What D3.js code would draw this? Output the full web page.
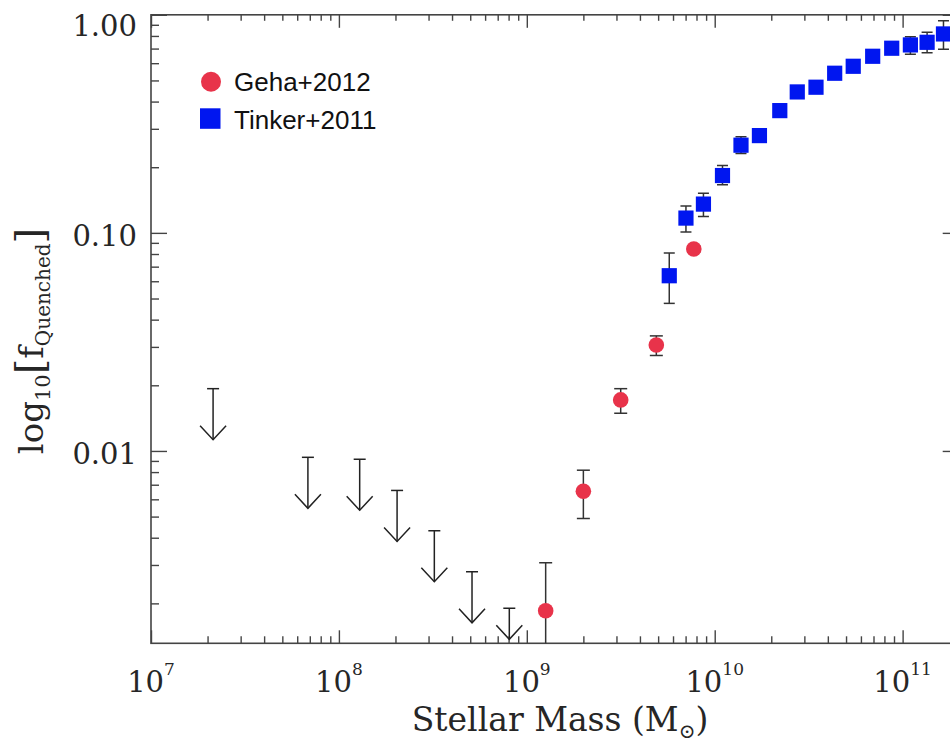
<!DOCTYPE html>
<html>
<head>
<meta charset="utf-8">
<script src="https://cdn.jsdelivr.net/npm/d3@7"></script>
<style>
  html, body { margin: 0; padding: 0; background: #fff; }
  svg { display: block; }
</style>
</head>
<body>
<svg id="chart" width="950" height="742"></svg>
<script>
// Quenched fraction of isolated galaxies versus stellar mass

// Upper limits (no quenched galaxies found): stellar mass and limit on f_quenched
const limitMass = [2.14e7, 6.84e7, 1.29e8, 2.04e8, 3.22e8, 5.11e8, 8.07e8];
const limitFrac = [0.0193, 0.00935, 0.00916, 0.00659, 0.00431, 0.00279, 0.00190];

// Geha+2012 measurements with error range
const gehaMass = [1.26e9, 2.0e9, 3.16e9, 4.89e9, 7.74e9];
const gehaFrac = [0.00185, 0.00653, 0.01714, 0.0306, 0.0843];
const gehaLo   = [0.0008, 0.00490, 0.01489, 0.0274, 0.0815];
const gehaHi   = [0.00307, 0.00816, 0.0193, 0.0337, 0.0872];

// Tinker+2011 measurements with error range
const tinkerMass = [5.73e9, 7.03e9, 8.71e9, 1.10e10, 1.38e10, 1.73e10, 2.22e10, 2.75e10,
                    3.46e10, 4.35e10, 5.46e10, 6.93e10, 8.75e10, 1.10e11, 1.35e11, 1.65e11];
const tinkerFrac = [0.0636, 0.1169, 0.1355, 0.1832, 0.2524, 0.2793, 0.3636, 0.4429,
                    0.4655, 0.5395, 0.5807, 0.6454, 0.7026, 0.7275, 0.748, 0.817];
const tinkerLo   = [0.0475, 0.1009, 0.1189, 0.1661, 0.2310, 0.268, 0.352, 0.43,
                    0.452, 0.525, 0.566, 0.63, 0.68, 0.660, 0.6706, 0.695];
const tinkerHi   = [0.0808, 0.1327, 0.1521, 0.2035, 0.2756, 0.291, 0.375, 0.455,
                    0.479, 0.554, 0.596, 0.66, 0.725, 0.794, 0.8316, 0.9396];

// Axis ticks
const xTickExps   = [7, 8, 9, 10, 11];
const yTickVals   = [1, 0.1, 0.01];
const yTickLabels = ["1.00", "0.10", "0.01"];

// Legend entries
const seriesNames  = ["Geha+2012", "Tinker+2011"];
const seriesColors = ["#e8334a", "#0016f0"];

const svg = d3.select("#chart");
const L = 151, R = 958.7, T = 14.8, B = 643.3;
const xMax = Math.pow(10, 11.2985), yMin = 0.001312;

const x = d3.scaleLog().domain([1e7, xMax]).range([L, R]);
const y = d3.scaleLog().domain([yMin, 1]).range([B, T]);

const axisColor = "#444";
const textColor = "#262626";
const serif = "'DejaVu Serif', serif";

// minor tick positions
const xMinor = [], yMinor = [];
for (let e = 7; e <= 11; e++) for (let m = 2; m <= 9; m++) {
  const v = m * Math.pow(10, e); if (v < xMax) xMinor.push(v);
}
for (let e = -3; e <= -1; e++) for (let m = 2; m <= 9; m++) {
  const v = m * Math.pow(10, e); if (v > yMin && v < 1) yMinor.push(v);
}
const xMajor = xTickExps.map(e => Math.pow(10, e));

function styleAxis(g) {
  g.select(".domain").remove();
  g.selectAll(".tick line").attr("stroke", axisColor).attr("stroke-width", 1.4);
  g.selectAll(".tick text").remove();
}

const axes = svg.append("g");
axes.append("g").attr("transform", `translate(0,${B})`)
  .call(d3.axisBottom(x).tickValues(xMinor).tickSize(-7)).call(styleAxis);
axes.append("g").attr("transform", `translate(0,${B})`)
  .call(d3.axisBottom(x).tickValues(xMajor).tickSize(-13)).call(styleAxis);
axes.append("g").attr("transform", `translate(0,${T})`)
  .call(d3.axisTop(x).tickValues(xMinor).tickSize(-6)).call(styleAxis);
axes.append("g").attr("transform", `translate(0,${T})`)
  .call(d3.axisTop(x).tickValues(xMajor).tickSize(-13)).call(styleAxis);
axes.append("g").attr("transform", `translate(${L},0)`)
  .call(d3.axisLeft(y).tickValues(yMinor).tickSize(-8)).call(styleAxis);
axes.append("g").attr("transform", `translate(${L},0)`)
  .call(d3.axisLeft(y).tickValues(yTickVals).tickSize(-16)).call(styleAxis);
axes.append("g").attr("transform", `translate(${R},0)`)
  .call(d3.axisRight(y).tickValues(yMinor).tickSize(-8)).call(styleAxis);
axes.append("g").attr("transform", `translate(${R},0)`)
  .call(d3.axisRight(y).tickValues(yTickVals).tickSize(-16)).call(styleAxis);

axes.append("rect").attr("x", L).attr("y", T).attr("width", R - L).attr("height", B - T)
  .attr("fill", "none").attr("stroke", axisColor).attr("stroke-width", 1.6);

// x tick labels: 10 with exponent
const xl = svg.append("g").attr("font-family", serif).attr("fill", textColor);
xTickExps.forEach(e => {
  const t = xl.append("text").attr("x", x(Math.pow(10, e))).attr("y", 692)
    .attr("text-anchor", "middle").attr("font-size", 29);
  t.append("tspan").text("10");
  t.append("tspan").attr("font-size", 17).attr("dy", -17).text(e);
});

// y tick labels
yTickVals.forEach((v, i) => {
  const cy = Math.max(y(v) + 3, 26);
  svg.append("text").attr("x", 137).attr("y", cy).attr("dy", "0.36em")
    .attr("text-anchor", "end").attr("font-family", serif).attr("font-size", 29)
    .attr("fill", textColor).text(yTickLabels[i]);
});

// axis titles
const xt = svg.append("text").attr("x", 560).attr("y", 731)
  .attr("text-anchor", "middle").attr("font-family", serif).attr("font-size", 33).attr("fill", textColor);
xt.append("tspan").text("Stellar Mass (M");
xt.append("tspan").attr("font-size", 20).attr("dy", 7).text("\u2299");
xt.append("tspan").attr("dy", -7).text(")");

const yt = svg.append("text").attr("transform", `translate(43,341) rotate(-90)`)
  .attr("text-anchor", "middle").attr("font-family", serif).attr("font-size", 34).attr("fill", textColor);
yt.append("tspan").text("log");
yt.append("tspan").attr("font-size", 21).attr("dy", 7).text("10");
yt.append("tspan").attr("dy", -7).attr("font-size", 40).text("[");
yt.append("tspan").text("f");
yt.append("tspan").attr("font-size", 20).attr("dy", 7).text("Quenched");
yt.append("tspan").attr("dy", -7).attr("font-size", 40).text("]");

// data layer, clipped to the plot frame
svg.append("clipPath").attr("id", "plotclip").append("rect")
  .attr("x", L).attr("y", T).attr("width", R - L).attr("height", B - T);
const plot = svg.append("g").attr("clip-path", "url(#plotclip)");
const errColor = "#333";

// upper-limit arrows
limitMass.forEach((m, i) => {
  const cx = x(m), top = y(limitFrac[i]);
  const tip = Math.min(top + 51, B - 4);
  const g = plot.append("g").attr("stroke", "#222").attr("stroke-width", 1.5).attr("fill", "none");
  g.append("line").attr("x1", cx - 6).attr("x2", cx + 6).attr("y1", top).attr("y2", top);
  g.append("line").attr("x1", cx).attr("x2", cx).attr("y1", top).attr("y2", tip);
  g.append("path").attr("d", `M${cx - 13},${tip - 14}L${cx},${tip}L${cx + 13},${tip - 14}`);
});

function errorBars(mass, lo, hi, capW) {
  mass.forEach((m, i) => {
    const cx = x(m), y1 = y(hi[i]), y2 = y(lo[i]);
    const g = plot.append("g").attr("stroke", errColor).attr("stroke-width", 1.5);
    g.append("line").attr("x1", cx).attr("x2", cx).attr("y1", y1).attr("y2", y2);
    g.append("line").attr("x1", cx - capW).attr("x2", cx + capW).attr("y1", y1).attr("y2", y1);
    g.append("line").attr("x1", cx - capW).attr("x2", cx + capW).attr("y1", y2).attr("y2", y2);
  });
}
errorBars(gehaMass, gehaLo, gehaHi, 6.5);
errorBars(tinkerMass, tinkerLo, tinkerHi, 5.5);

plot.selectAll("circle.geha").data(gehaMass).join("circle").attr("class", "geha")
  .attr("cx", d => x(d)).attr("cy", (d, i) => y(gehaFrac[i])).attr("r", 7.8)
  .attr("fill", seriesColors[0]);
plot.selectAll("rect.tinker").data(tinkerMass).join("rect").attr("class", "tinker")
  .attr("x", d => x(d) - 7.6).attr("y", (d, i) => y(tinkerFrac[i]) - 7.6)
  .attr("width", 15.2).attr("height", 15.2).attr("fill", seriesColors[1]);

// legend
const lg = svg.append("g").attr("font-family", "'Liberation Sans', Arial, sans-serif")
  .attr("font-size", 26).attr("fill", "#111");
lg.append("circle").attr("cx", 211).attr("cy", 81.7).attr("r", 10).attr("fill", seriesColors[0]);
lg.append("rect").attr("x", 200).attr("y", 108.3).attr("width", 20.5).attr("height", 20.5).attr("fill", seriesColors[1]);
lg.append("text").attr("x", 234).attr("y", 91).text(seriesNames[0]);
lg.append("text").attr("x", 234).attr("y", 128.5).text(seriesNames[1]);
</script>
</body>
</html>
